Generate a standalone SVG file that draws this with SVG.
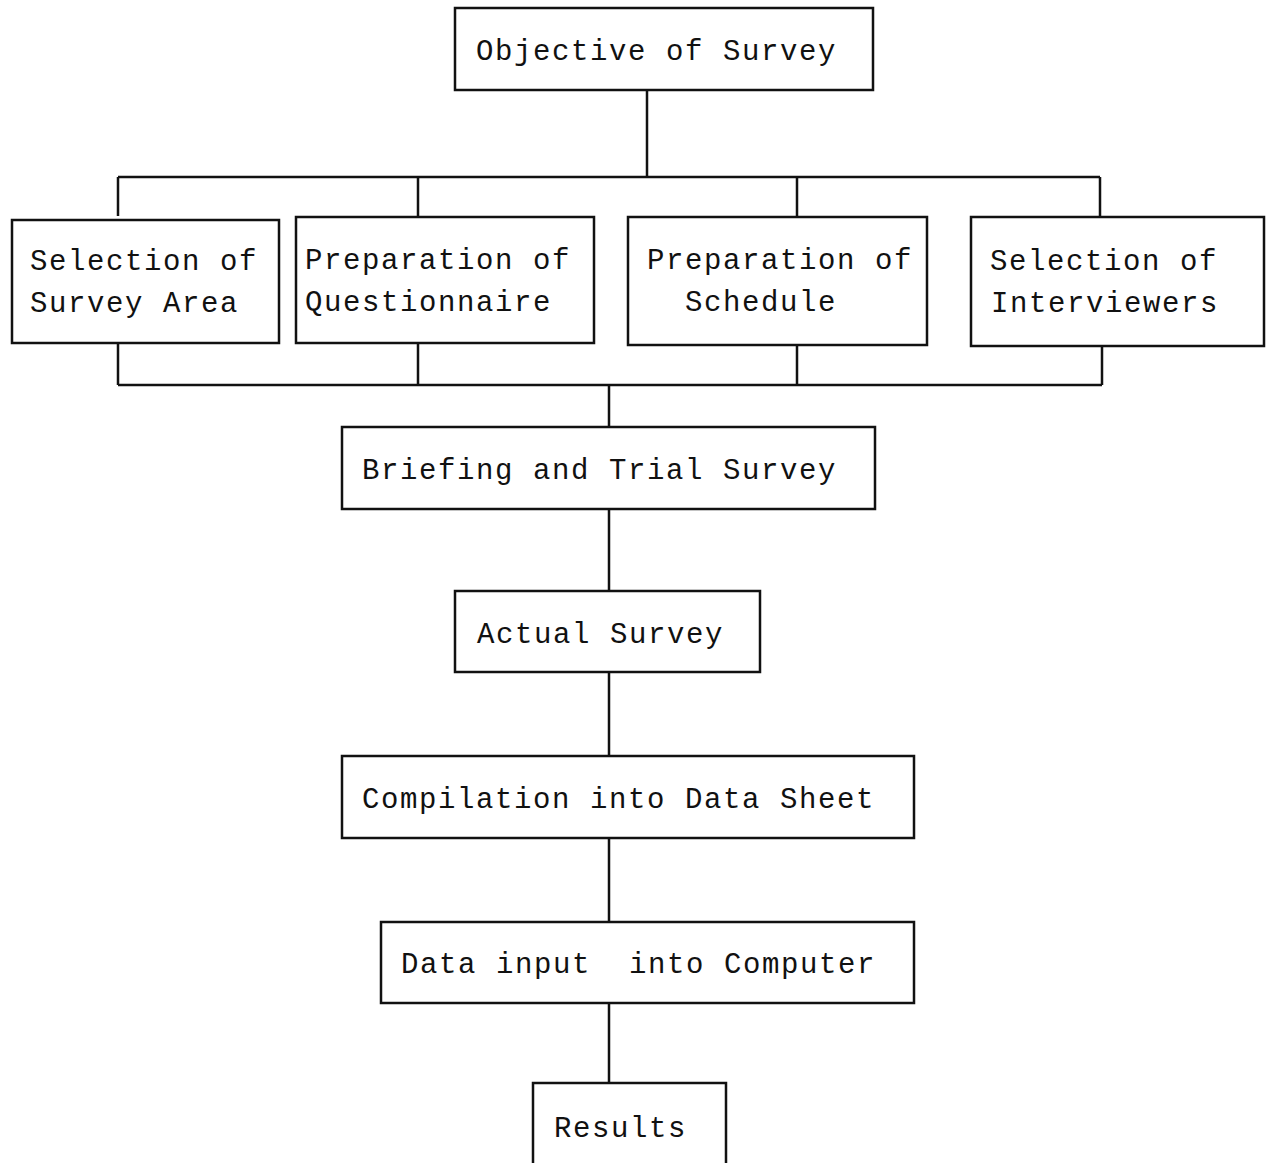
<svg xmlns="http://www.w3.org/2000/svg" width="1266" height="1163" viewBox="0 0 1266 1163">
<style>
.box{fill:none;stroke:#111;stroke-width:2.5}
.ln{fill:none;stroke:#111;stroke-width:2.5}
text{font-family:"Liberation Mono","Courier New",monospace;font-size:29px;letter-spacing:1.6px;fill:#111}
</style>
<rect width="1266" height="1163" fill="#fff"/>
<g id="connectors">
<path class="ln" d="M647 90V177M118 177H1100M118 177V216M418 177V217M797 177V217M1100 177V217"/>
<path class="ln" d="M118 343V385M418 343V385M797 345V385M1102 346V385M118 385H1102M609 385V427"/>
<path class="ln" d="M609 509V591M609 672V756M609 838V922M609 1003V1083"/>
</g>
<g id="n-objective"><rect class="box" x="455" y="8" width="418" height="82"/><text x="476" y="60">Objective of Survey</text></g>
<g id="n-area"><rect class="box" x="12" y="220" width="267" height="123"/><text x="30" y="270">Selection of</text><text x="30" y="312">Survey Area</text></g>
<g id="n-questionnaire"><rect class="box" x="296" y="217" width="298" height="126"/><text x="305" y="269">Preparation of</text><text x="305" y="311">Questionnaire</text></g>
<g id="n-schedule"><rect class="box" x="628" y="217" width="299" height="128"/><text x="647" y="269">Preparation of</text><text x="685" y="311">Schedule</text></g>
<g id="n-interviewers"><rect class="box" x="971" y="217" width="293" height="129"/><text x="990" y="270">Selection of</text><text x="991" y="312">Interviewers</text></g>
<g id="n-briefing"><rect class="box" x="342" y="427" width="533" height="82"/><text x="362" y="479">Briefing and Trial Survey</text></g>
<g id="n-actual"><rect class="box" x="455" y="591" width="305" height="81"/><text x="477" y="643">Actual Survey</text></g>
<g id="n-compilation"><rect class="box" x="342" y="756" width="572" height="82"/><text x="362" y="808">Compilation into Data Sheet</text></g>
<g id="n-input"><rect class="box" x="381" y="922" width="533" height="81"/><text x="401" y="973" xml:space="preserve">Data input  into Computer</text></g>
<g id="n-results"><path class="box" d="M533 1163V1083H726V1163"/><text x="554" y="1137">Results</text></g>
</svg>
